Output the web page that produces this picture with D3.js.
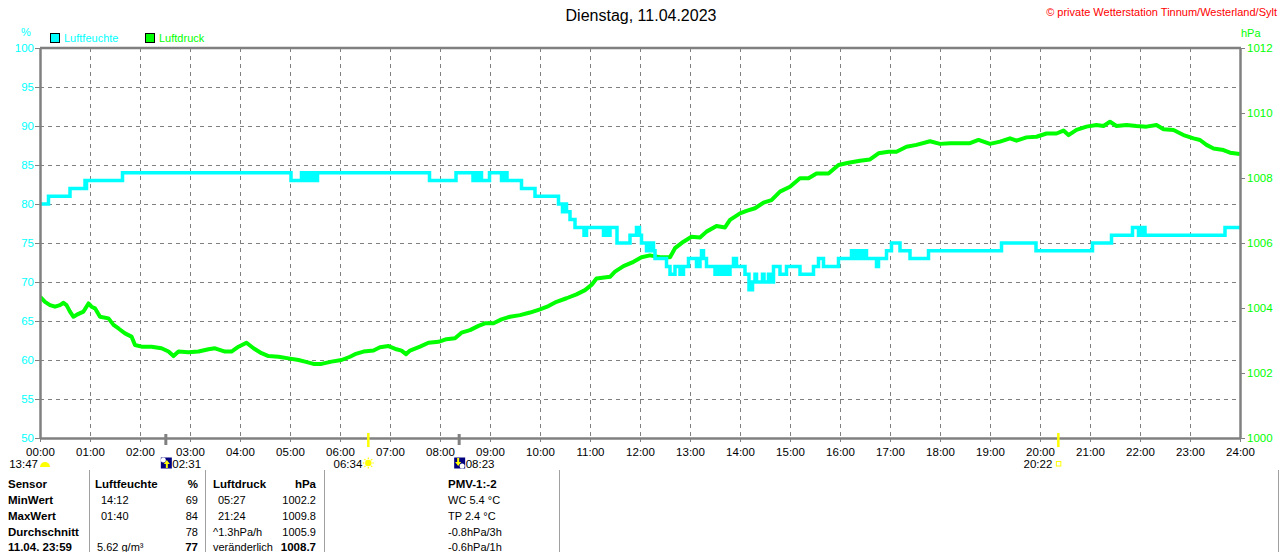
<!DOCTYPE html>
<html><head><meta charset="utf-8">
<script src="https://cdn.jsdelivr.net/npm/d3@7"></script>
<style>
body{margin:0;background:#fff;}
svg{display:block;font-family:"Liberation Sans",Arial,sans-serif;}
</style></head><body>
<svg id="c" width="1280" height="552"></svg>
<script>
// ---------- data ----------
const titleText = "Dienstag, 11.04.2023";
const copyrightText = "\u00A9 private Wetterstation Tinnum/Westerland/Sylt";
const seriesNames = ["Luftfeuchte", "Luftdruck"];
const hourTicks = d3.range(0, 25);
const humidityTicks = [50, 55, 60, 65, 70, 75, 80, 85, 90, 95, 100];
const pressureTicks = [1000, 1002, 1004, 1006, 1008, 1010, 1012];

// Luftfeuchte (%), step values: time in hours, value
const humTimes = [0, 0.17, 0.6, 0.9, 0.92, 0.93, 1.65, 5.02,
  5.23, 5.27, 5.31, 5.35, 5.39, 5.43, 5.47, 5.51, 5.55, 5.58,
  7.79, 8.32, 8.66, 8.70, 8.74, 8.78, 8.83, 8.99, 9.23, 9.27, 9.34,
  9.63, 9.9, 10.37, 10.45, 10.5, 10.53, 10.6, 10.7, 10.88, 10.93,
  11.27, 11.3, 11.35, 11.4, 11.54, 11.8, 11.93, 11.99, 12.03,
  12.13, 12.17, 12.2, 12.25, 12.27, 12.3, 12.53, 12.6, 12.7, 12.8, 12.87,
  12.97, 13.13, 13.2, 13.23, 13.27, 13.33, 13.5, 13.57, 13.63, 13.7, 13.77, 13.8,
  13.87, 13.93, 14.1, 14.18, 14.25, 14.3, 14.33, 14.45, 14.48, 14.57, 14.6,
  14.67, 14.8, 14.93, 15.2, 15.47, 15.57, 15.67, 15.97,
  16.23, 16.3, 16.37, 16.43, 16.5, 16.53, 16.73, 16.77, 16.93, 17.03, 17.2, 17.4,
  17.77, 19.23, 19.92, 21.05, 21.43, 21.85, 21.97, 22.03, 22.1, 23.7, 24];
const humValues = [80, 81, 82, 83, 82, 83, 84, 83,
  84, 83, 84, 83, 84, 83, 84, 83, 84, 84,
  83, 84, 83, 84, 83, 84, 83, 84, 83, 84, 83,
  82, 81, 80, 79, 80, 79, 78, 77, 76, 77,
  76, 77, 76, 77, 75, 76, 77, 76, 75,
  74, 75, 74, 75, 74, 73, 72, 71, 72, 71, 72,
  73, 72, 73, 74, 73, 72, 71, 72, 71, 72, 71, 72,
  73, 72, 71, 69, 70, 71, 70, 71, 70, 71, 70,
  72, 71, 72, 71, 72, 73, 72, 73,
  74, 73, 74, 73, 74, 73, 72, 73, 74, 75, 74, 73,
  74, 75, 74, 75, 76, 77, 76, 77, 76, 77, 77];

// Luftdruck (hPa): time in hours, value
const pressTimes = [0, 0.1, 0.2, 0.3, 0.4, 0.47, 0.53, 0.6, 0.67, 0.77, 0.87, 0.97,
  1.03, 1.1, 1.2, 1.37, 1.47, 1.57, 1.7, 1.83, 1.9, 2.03, 2.23, 2.43, 2.57, 2.67,
  2.77, 2.97, 3.17, 3.37, 3.5, 3.7, 3.83, 3.97, 4.13, 4.27, 4.43, 4.57, 4.77, 4.97,
  5.17, 5.3, 5.47, 5.63, 5.83, 6.03, 6.2, 6.3, 6.47, 6.67, 6.8, 6.97, 7.13, 7.23,
  7.32, 7.4, 7.6, 7.77, 7.97, 8.13, 8.3, 8.43, 8.6, 8.77, 8.9, 9.07, 9.23, 9.4,
  9.6, 9.8, 10.0, 10.17, 10.33, 10.53, 10.73, 10.9, 11.03, 11.13, 11.4, 11.5,
  11.67, 11.87, 12.03, 12.2, 12.4, 12.6, 12.7, 12.87, 13.03, 13.2, 13.33, 13.53,
  13.7, 13.8, 14.0, 14.13, 14.3, 14.47, 14.63, 14.8, 15.0, 15.2, 15.37, 15.53,
  15.77, 15.97, 16.17, 16.4, 16.6, 16.77, 16.97, 17.13, 17.33, 17.53, 17.8, 18.0,
  18.2, 18.4, 18.6, 18.77, 19.0, 19.2, 19.4, 19.53, 19.73, 19.93, 20.13, 20.33,
  20.47, 20.57, 20.73, 20.93, 21.13, 21.27, 21.4, 21.53, 21.73, 21.93, 22.13,
  22.33, 22.47, 22.67, 22.87, 23.07, 23.2, 23.33, 23.47, 23.67, 23.8, 24];
const pressValues = [1004.35, 1004.19, 1004.09, 1004.04, 1004.09, 1004.16, 1004.09,
  1003.89, 1003.73, 1003.82, 1003.89, 1004.14, 1004.04, 1003.99, 1003.73, 1003.68,
  1003.48, 1003.37, 1003.22, 1003.12, 1002.86, 1002.81, 1002.81, 1002.76, 1002.66,
  1002.52, 1002.66, 1002.64, 1002.66, 1002.73, 1002.76, 1002.66, 1002.66, 1002.81,
  1002.93, 1002.76, 1002.61, 1002.52, 1002.50, 1002.45, 1002.40, 1002.35, 1002.28,
  1002.28, 1002.35, 1002.40, 1002.50, 1002.58, 1002.66, 1002.69, 1002.79, 1002.83,
  1002.73, 1002.69, 1002.58, 1002.69, 1002.81, 1002.93, 1002.96, 1003.04, 1003.07,
  1003.24, 1003.32, 1003.45, 1003.53, 1003.53, 1003.65, 1003.73, 1003.78, 1003.86,
  1003.96, 1004.06, 1004.19, 1004.30, 1004.42, 1004.55, 1004.71, 1004.91, 1004.96,
  1005.12, 1005.29, 1005.42, 1005.56, 1005.62, 1005.56, 1005.56, 1005.84, 1006.04,
  1006.19, 1006.17, 1006.35, 1006.52, 1006.48, 1006.71, 1006.91, 1006.99, 1007.07,
  1007.24, 1007.32, 1007.58, 1007.73, 1007.99, 1007.99, 1008.14, 1008.14, 1008.40,
  1008.47, 1008.53, 1008.57, 1008.76, 1008.81, 1008.81, 1008.96, 1009.02, 1009.13,
  1009.05, 1009.07, 1009.07, 1009.07, 1009.17, 1009.05, 1009.12, 1009.22, 1009.15,
  1009.25, 1009.27, 1009.37, 1009.37, 1009.46, 1009.32, 1009.48, 1009.58, 1009.63,
  1009.60, 1009.73, 1009.60, 1009.63, 1009.60, 1009.58, 1009.63, 1009.50, 1009.48,
  1009.32, 1009.22, 1009.17, 1009.02, 1008.91, 1008.86, 1008.78, 1008.74];

// Sun / moon events
const eventTimes = [2 + 31/60, 6 + 34/60, 8 + 23/60, 20 + 22/60];
const eventLabels = ["02:31", "06:34", "08:23", "20:22"];
const eventKinds = ["moonrise", "sunrise", "moonset", "sunset"];
const moonPhaseLabel = "13:47";

// Summary table
const tableCol1 = ["Sensor", "MinWert", "MaxWert", "Durchschnitt", "11.04. 23:59"];
const tableHumText = ["Luftfeuchte", "14:12", "01:40", "", "5.62 g/m\u00B3"];
const tableHumVal = ["%", "69", "84", "78", "77"];
const tablePressText = ["Luftdruck", "05:27", "21:24", "^1.3hPa/h", "ver\u00E4nderlich"];
const tablePressVal = ["hPa", "1002.2", "1009.8", "1005.9", "1008.7"];
const tableExtra = ["PMV-1:-2", "WC 5.4 \u00B0C", "TP 2.4 \u00B0C", "-0.8hPa/3h", "-0.6hPa/1h"];

// ---------- drawing ----------
const svg = d3.select("#c");
const W = 1280, H = 552;
const L = 40, R = 1240, T = 48, B = 438;
const cyan = "#00ffff", green = "#00ff00", grid = "#808080";

svg.append("rect").attr("width", W).attr("height", H).attr("fill", "#fff");

const x = d3.scaleLinear().domain([0, 24]).range([L, R]);
const yH = d3.scaleLinear().domain([50, 100]).range([B, T]);
const yP = d3.scaleLinear().domain([1000, 1012]).range([B, T]);

// gridlines
const gg = svg.append("g").attr("stroke", grid).attr("stroke-width", 1).attr("stroke-dasharray", "4,4");
gg.selectAll("line.v").data(hourTicks.filter(h => h > 0 && h < 24)).join("line")
  .attr("x1", d => x(d) + 0.5).attr("x2", d => x(d) + 0.5).attr("y1", T).attr("y2", B);
gg.selectAll("line.h").data(humidityTicks.filter(v => v > 50 && v < 100)).join("line")
  .attr("x1", L).attr("x2", R).attr("y1", d => yH(d) + 0.5).attr("y2", d => yH(d) + 0.5);

// title & copyright
svg.append("text").attr("x", 641).attr("y", 21).attr("text-anchor", "middle")
  .attr("font-size", 16).attr("fill", "#000").text(titleText);
svg.append("text").attr("x", 1277).attr("y", 16).attr("text-anchor", "end")
  .attr("font-size", 11).attr("fill", "#ff0000").text(copyrightText);

// unit labels
svg.append("text").attr("x", 26).attr("y", 36).attr("text-anchor", "middle")
  .attr("font-size", 11).attr("fill", cyan).text("%");
svg.append("text").attr("x", 1241).attr("y", 37)
  .attr("font-size", 11).attr("fill", green).text("hPa");

// legend
const legColors = [cyan, green];
const legX = [50, 145];
seriesNames.forEach((n, i) => {
  svg.append("rect").attr("x", legX[i] + 0.5).attr("y", 33.5).attr("width", 9).attr("height", 9)
    .attr("fill", legColors[i]).attr("stroke", "#000").attr("stroke-width", 1);
  svg.append("text").attr("x", legX[i] + 14).attr("y", 42).attr("font-size", 11)
    .attr("fill", legColors[i]).text(n);
});

// lines
svg.append("clipPath").attr("id", "pc").append("rect")
  .attr("x", L).attr("y", T).attr("width", R - L).attr("height", B - T);
const plot = svg.append("g").attr("clip-path", "url(#pc)");

const pressData = pressTimes.map((t, i) => [t, pressValues[i]]);
const humData = humTimes.map((t, i) => [t, humValues[i]]);

plot.append("path").datum(pressData)
  .attr("fill", "none").attr("stroke", green).attr("stroke-width", 4)
  .attr("stroke-linejoin", "round")
  .attr("d", d3.line().x(d => x(d[0])).y(d => yP(d[1])));

plot.append("path").datum(humData)
  .attr("fill", "none").attr("stroke", cyan).attr("stroke-width", 3.5)
  .attr("d", d3.line().curve(d3.curveStepAfter).x(d => x(d[0])).y(d => yH(d[1])));

// axes
function styleAxis(g, color) {
  g.attr("font-family", null).attr("font-size", null);
  g.select(".domain").attr("stroke", grid).attr("stroke-width", 2.5);
  g.selectAll(".tick line").attr("stroke", grid).attr("stroke-width", 1);
  g.selectAll(".tick text").attr("fill", color).attr("font-size", 11.5);
}
const ax = svg.append("g").attr("transform", `translate(0,${B})`)
  .call(d3.axisBottom(x).tickValues(hourTicks).tickSize(4).tickSizeOuter(0)
    .tickFormat(d => String(d).padStart(2, "0") + ":00"));
styleAxis(ax, "#000");
ax.selectAll(".tick text").attr("y", 18).attr("dy", null);

const al = svg.append("g").attr("transform", `translate(${L},0)`)
  .call(d3.axisLeft(yH).tickValues(humidityTicks).tickSize(5).tickPadding(1).tickSizeOuter(0));
styleAxis(al, cyan);

const ar = svg.append("g").attr("transform", `translate(${R},0)`)
  .call(d3.axisRight(yP).tickValues(pressureTicks).tickSize(5).tickPadding(2).tickSizeOuter(0)
    .tickFormat(d3.format("d")));
styleAxis(ar, green);

// top border
svg.append("line").attr("x1", L).attr("x2", R + 1).attr("y1", T).attr("y2", T)
  .attr("stroke", grid).attr("stroke-width", 2.5);

// event markers on x axis
const ev = svg.append("g");
eventTimes.forEach((t, i) => {
  const k = eventKinds[i];
  const px = x(t);
  const isMoon = k.startsWith("moon");
  ev.append("line").attr("x1", px).attr("x2", px).attr("y1", isMoon ? 434 : 433).attr("y2", isMoon ? 445 : 447)
    .attr("stroke", isMoon ? grid : "#ffff00").attr("stroke-width", isMoon ? 3 : 2.5);
  const cy = 463;
  const g = ev.append("g").attr("transform", `translate(${px},${cy})`);
  if (isMoon) {
    g.append("rect").attr("x", -5).attr("y", -5.5).attr("width", 11).attr("height", 11).attr("fill", "#000080");
    if (k === "moonrise") {
      g.append("circle").attr("cx", -2.5).attr("cy", -3).attr("r", 2.5).attr("fill", "#fff");
      g.append("path").attr("d", "M1,-3 L4,1 L2,1 L2,5 L0,5 L0,1 L-2,1 Z").attr("fill", "#ffff00");
    } else {
      g.append("circle").attr("cx", 3).attr("cy", 3).attr("r", 2.5).attr("fill", "#fff");
      g.append("path").attr("d", "M-1,3 L-4,-1 L-2,-1 L-2,-5 L0,-5 L0,-1 L2,-1 Z").attr("fill", "#ffff00");
    }
    ev.append("text").attr("x", px + 6.5).attr("y", cy + 4.5).attr("font-size", 11.5).attr("fill", "#000").text(eventLabels[i]);
  } else {
    if (k === "sunrise") {
      g.append("circle").attr("r", 3.2).attr("fill", "#ffff00");
      d3.range(8).forEach(j => {
        const a = j * Math.PI / 4;
        g.append("line").attr("x1", Math.cos(a) * 4).attr("y1", Math.sin(a) * 4)
          .attr("x2", Math.cos(a) * 5.5).attr("y2", Math.sin(a) * 5.5)
          .attr("stroke", "#ffff00").attr("stroke-width", 1.2);
      });
    } else {
      g.append("rect").attr("x", -2).attr("y", -1.5).attr("width", 4.5).attr("height", 4.5)
        .attr("fill", "none").attr("stroke", "#ffff00").attr("stroke-width", 1);
    }
    ev.append("text").attr("x", px - 6).attr("y", cy + 4.5).attr("text-anchor", "end")
      .attr("font-size", 11.5).attr("fill", "#000").text(eventLabels[i]);
  }
});
// moon phase at far left
svg.append("text").attr("x", 38).attr("y", 467.5).attr("text-anchor", "end")
  .attr("font-size", 11.5).attr("fill", "#000").text(moonPhaseLabel);
svg.append("path").attr("d", "M40,467 A5,5 0 0 1 50,467 Z").attr("fill", "#ffff00");

// summary table
const tbl = svg.append("g").attr("font-size", 11).attr("fill", "#000");
[89, 205, 324, 559, 1278].forEach(dx => {
  tbl.append("line").attr("x1", dx + 0.5).attr("x2", dx + 0.5).attr("y1", 470).attr("y2", 552)
    .attr("stroke", "#a0a0a0").attr("stroke-width", 1);
});
const rowY = [488, 504, 520, 536, 551];
rowY.forEach((yy, i) => {
  const boldRow = (i === 0);
  const boldVal = (i === 0 || i === 4);
  tbl.append("text").attr("x", 8).attr("y", yy).attr("font-weight", "bold").attr("font-size", 11.5).text(tableCol1[i]);
  tbl.append("text").attr("x", i === 0 ? 95 : (i === 4 ? 97 : 101)).attr("y", yy)
    .attr("font-weight", boldRow ? "bold" : "normal").attr("font-size", boldRow ? 11.5 : 11).text(tableHumText[i]);
  tbl.append("text").attr("x", 198).attr("y", yy).attr("text-anchor", "end")
    .attr("font-weight", boldVal ? "bold" : "normal").attr("font-size", boldVal ? 11.5 : 11).text(tableHumVal[i]);
  tbl.append("text").attr("x", (i === 1 || i === 2) ? 218 : 213).attr("y", yy)
    .attr("font-weight", boldRow ? "bold" : "normal").attr("font-size", boldRow ? 11.5 : 11).text(tablePressText[i]);
  tbl.append("text").attr("x", 316).attr("y", yy).attr("text-anchor", "end")
    .attr("font-weight", boldVal ? "bold" : "normal").attr("font-size", boldVal ? 11.5 : 11).text(tablePressVal[i]);
  tbl.append("text").attr("x", 448).attr("y", yy)
    .attr("font-weight", boldRow ? "bold" : "normal").attr("font-size", boldRow ? 11.5 : 11).text(tableExtra[i]);
});
</script>
</body></html>
